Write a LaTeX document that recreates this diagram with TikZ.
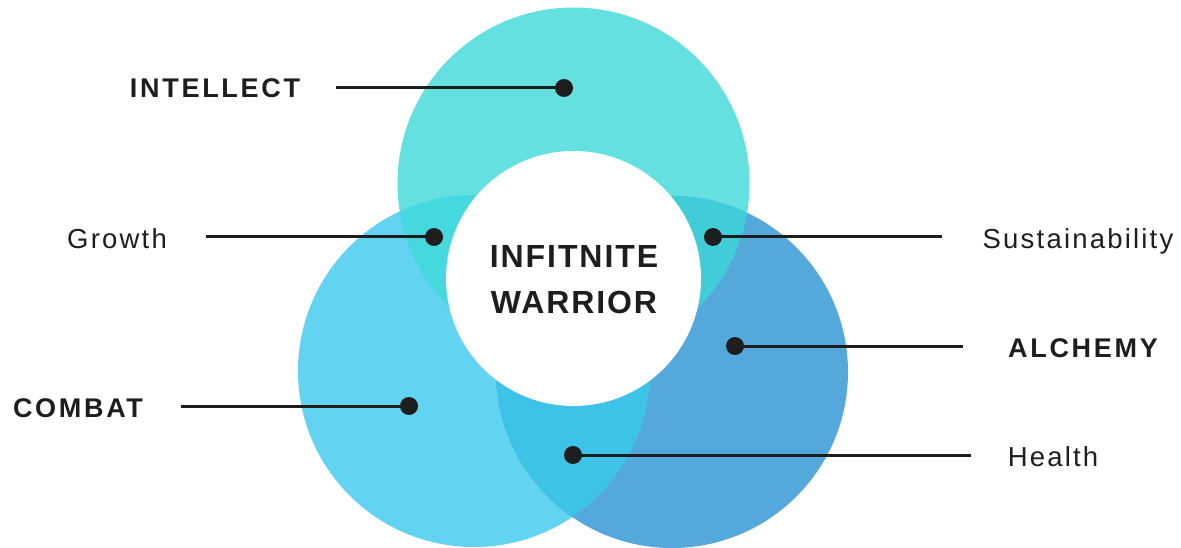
\documentclass[tikz,border=0pt]{standalone}
\usepackage{fontspec}
\setmainfont{Liberation Sans}
\newfontfamily\labelfont[LetterSpace=8]{Liberation Sans}
\newfontfamily\headfont[LetterSpace=10,BoldFont={Liberation Sans Bold}]{Liberation Sans}
\newfontfamily\corefont[LetterSpace=6,BoldFont={Liberation Sans Bold}]{Liberation Sans}
\definecolor{ink}{HTML}{1E1E1E}
\definecolor{topc}{HTML}{64E0E0}
\definecolor{leftc}{HTML}{62D3F0}
\definecolor{rightc}{HTML}{55A8DC}
\definecolor{topleft}{HTML}{45D9DF}
\definecolor{topright}{HTML}{41CDD8}
\definecolor{leftright}{HTML}{3DC2E8}
\tikzset{
  dotmark/.style={circle, fill=ink, inner sep=0pt, minimum size=18pt},
  leader/.style={draw=ink, line width=3pt},
  headlbl/.style={inner sep=0pt, anchor=base, text=ink, font=\headfont\bfseries\fontsize{27}{32}\selectfont},
  sublbl/.style={inner sep=0pt, anchor=base, text=ink, font=\labelfont\fontsize{27.5}{32}\selectfont},
  corelbl/.style={inner sep=0pt, anchor=base, text=ink, font=\corefont\bfseries\fontsize{32}{45}\selectfont}
}
\begin{document}
\begin{tikzpicture}[x=1pt,y=-1pt]
\useasboundingbox (0,0) rectangle (1181,548);
\fill[white] (0,0) rectangle (1181,548);
% centres of the three petals and the core
\coordinate (ct) at (573.5,183.5);
\coordinate (cl) at (474,371);
\coordinate (cr) at (672,372);
\coordinate (cc) at (573.5,278.5);
\def\R{176pt}
% petals
\fill[topc] (ct) circle[radius=\R];
\fill[leftc] (cl) circle[radius=\R];
\fill[rightc] (cr) circle[radius=\R];
% pairwise overlaps
\begin{scope}
  \clip (ct) circle[radius=\R];
  \fill[topleft] (cl) circle[radius=\R];
\end{scope}
\begin{scope}
  \clip (ct) circle[radius=\R];
  \fill[topright] (cr) circle[radius=\R];
\end{scope}
\begin{scope}
  \clip (cl) circle[radius=\R];
  \fill[leftright] (cr) circle[radius=\R];
\end{scope}
% white core
\fill[white] (cc) circle[radius=127.5pt];
\node[corelbl] (core1) at (574,268) {INFITNITE};
\node[corelbl] (core2) at (574,313) {WARRIOR};
% markers
\node[dotmark] (dint) at (564,88) {};
\node[dotmark] (dgro) at (434,237) {};
\node[dotmark] (dsus) at (713,237) {};
\node[dotmark] (dalc) at (735,346) {};
\node[dotmark] (dcom) at (409,406) {};
\node[dotmark] (dhea) at (573,455) {};
% leader ends
\coordinate (eint) at (336,88);
\coordinate (egro) at (206,237);
\coordinate (ecom) at (181,406);
\coordinate (esus) at (942,237);
\coordinate (ealc) at (963,346);
\coordinate (ehea) at (971,455);
\draw[leader] (eint) -- (dint.center);
\draw[leader] (egro) -- (dgro.center);
\draw[leader] (ecom) -- (dcom.center);
\draw[leader] (dsus.center) -- (esus);
\draw[leader] (dalc.center) -- (ealc);
\draw[leader] (dhea.center) -- (ehea);
% labels
\node[headlbl] (lint) at (215,98) {INTELLECT};
\node[headlbl] (lcom) at (78,417) {COMBAT};
\node[headlbl] (lalc) at (1083,357) {ALCHEMY};
\node[sublbl] (lgro) at (117,248) {Growth};
\node[sublbl] (lsus) at (1078,248) {Sustainability};
\node[sublbl] (lhea) at (1053,466) {Health};
\end{tikzpicture}
\end{document}
